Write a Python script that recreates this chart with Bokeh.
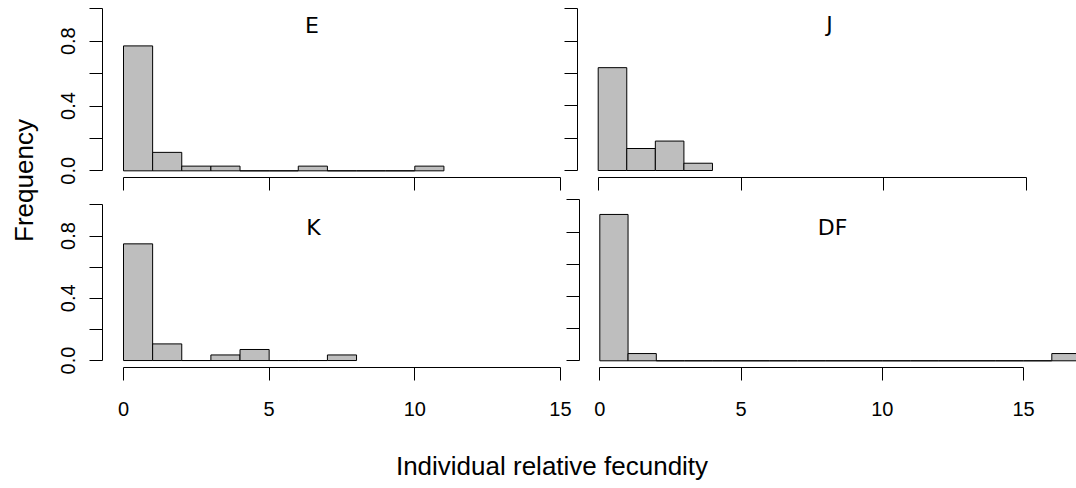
import math
from bokeh.plotting import figure
from bokeh.models import (Range1d, LinearAxis, FixedTicker, PrintfTickFormatter,
                          Label, ColumnDataSource)
from bokeh.layouts import row, column
from bokeh.embed import file_html
from bokeh.resources import INLINE

# ---------------- data ----------------
bin_edges = list(range(0, 18))            # histogram breaks, width 1
E_freq = [0.771, 0.114, 0.029, 0.029, 0.0, 0.0, 0.029, 0.0, 0.0, 0.0, 0.029]
J_freq = [0.636, 0.136, 0.182, 0.045]
K_freq = [0.750, 0.107, 0.0, 0.036, 0.071, 0.0, 0.0, 0.036]
DF_freq = [0.909, 0.045, 0.0, 0.0, 0.0, 0.0, 0.0, 0.0, 0.0, 0.0,
           0.0, 0.0, 0.0, 0.0, 0.0, 0.0, 0.045]
x_ticks = [0, 5, 10, 15]
y_ticks = [0.0, 0.2, 0.4, 0.6, 0.8, 1.0]
y_labelled = [0.0, 0.4, 0.8]
x_title = "Individual relative fecundity"
y_title = "Frequency"

# ---------------- styles ----------------
TICK_FONT = "Liberation Sans"
TITLE_FONT = "DejaVu Sans"
BAR_FILL = "#BEBEBE"
INK = "#000000"
TICK_LEN = 13


def xr(lo_px, hi_px, zero_px, unit_px):
    return Range1d(start=(lo_px - zero_px) / unit_px, end=(hi_px - zero_px) / unit_px)


def yr(top_px, bottom_px, zero_px, unit_px):
    return Range1d(start=(zero_px - bottom_px) / unit_px, end=(zero_px - top_px) / unit_px)


def style_axis(ax, size="19px"):
    ax.axis_line_color = INK
    ax.axis_line_width = 1
    ax.major_tick_line_color = INK
    ax.minor_tick_line_color = INK
    ax.major_tick_in = 0
    ax.minor_tick_in = 0
    ax.major_tick_out = TICK_LEN
    ax.minor_tick_out = TICK_LEN
    ax.major_label_text_font = TICK_FONT
    ax.major_label_text_font_size = size
    ax.major_label_text_color = INK


def base_fig(w, h, borders, x_range, y_range):
    bl, br, bt, bb = borders
    p = figure(width=w, height=h, x_range=x_range, y_range=y_range,
               x_axis_type=None, y_axis_type=None, toolbar_location=None,
               output_backend="svg", min_border_left=bl, min_border_right=br,
               min_border_top=bt, min_border_bottom=bb)
    p.outline_line_color = None
    p.background_fill_color = "white"
    p.border_fill_color = "white"
    return p


def panel(freq, title, spec, y_labels):
    w, h = spec["w"], spec["h"]
    bl, br, bt, bb = spec["borders"]
    p = base_fig(w, h, spec["borders"],
                 xr(bl, w - br, spec["x0"], spec["xu"]),
                 yr(bt, h - bb, spec["y0"], spec["yu"]))
    n = len(freq)
    src = ColumnDataSource(dict(left=bin_edges[:n], right=bin_edges[1:n + 1],
                                top=freq, bottom=[0.0] * n))
    p.quad(left="left", right="right", top="top", bottom="bottom", source=src,
           fill_color=BAR_FILL, line_color=INK, line_width=1)

    # y axis (R style: ticks every 0.2, labels every 0.4 on the left column)
    if y_labels:
        yt = FixedTicker(ticks=y_labelled,
                         minor_ticks=[t for t in y_ticks if t not in y_labelled])
    else:
        yt = FixedTicker(ticks=[], minor_ticks=y_ticks)
    yax = LinearAxis(ticker=yt, formatter=PrintfTickFormatter(format="%.1f"),
                     bounds=(y_ticks[0], y_ticks[-1]))
    style_axis(yax, "20px")
    yax.major_label_orientation = "vertical"
    yax.major_label_standoff = 14 if y_labels else 0
    p.add_layout(yax, "left")

    # x axis: line and ticks only (labels sit in the strip below)
    xax = LinearAxis(ticker=FixedTicker(ticks=[], minor_ticks=x_ticks),
                     bounds=(x_ticks[0], x_ticks[-1]))
    style_axis(xax)
    xax.major_label_standoff = 0
    p.add_layout(xax, "below")

    tx, ty = spec["title_px"]
    p.add_layout(Label(x=(tx - spec["x0"]) / spec["xu"],
                       y=(spec["y0"] - ty) / spec["yu"],
                       text=title, text_align="center", text_baseline="middle",
                       text_font=TITLE_FONT, text_font_size="22px",
                       text_color=INK))
    return p


def label_strip(spec):
    w, h = spec["w"], spec["h"]
    bl, br, bt, bb = spec["borders"]
    p = base_fig(w, h, spec["borders"],
                 xr(bl, w - br, spec["x0"], spec["xu"]),
                 Range1d(0, 1))
    ax = LinearAxis(ticker=FixedTicker(ticks=x_ticks))
    style_axis(ax, "20px")
    ax.axis_line_color = None
    ax.major_tick_line_color = None
    ax.major_tick_out = 0
    ax.minor_tick_out = 0
    ax.major_label_standoff = 15
    p.add_layout(ax, "below")
    return p


# ---------------- layout specs (canvas-local pixels) ----------------
TL = dict(w=515, h=196, borders=(54, 2, 8, 18), x0=75.0, xu=29.13, y0=171.3, yu=163.0,
          title_px=(263.5, 25.0))
TR = dict(w=513, h=196, borders=(14, 0, 8, 19), x0=34.7, xu=28.57, y0=170.0, yu=161.7,
          title_px=(266.0, 24.0))
BL = dict(w=517, h=186, borders=(54, 2, 0, 14), x0=75.0, xu=29.13, y0=165.0, yu=156.5,
          title_px=(265.0, 31.5))
BR = dict(w=511, h=186, borders=(14, 0, 0, 15), x0=34.3, xu=28.25, y0=164.3, yu=161.0,
          title_px=(267.0, 30.7))
LS = dict(w=532, h=46, borders=(54, 10, 0, 42), x0=75.0, xu=29.13)
RS = dict(w=496, h=46, borders=(0, 0, 0, 42), x0=19.3, xu=28.25)

p_tl = panel(E_freq, "E", TL, True)
p_tr = panel(J_freq, "J", TR, False)
p_bl = panel(K_freq, "K", BL, True)
p_br = panel(DF_freq, "DF", BR, False)
p_ls = label_strip(LS)
p_rs = label_strip(RS)

# y title
p_y = base_fig(48, 428, (0, 0, 0, 0), Range1d(0, 48), Range1d(0, 428))
p_y.add_layout(Label(x=23.5, y=248, text=y_title, angle=math.pi / 2,
                     text_align="center", text_baseline="middle",
                     text_font=TICK_FONT, text_font_size="26px", text_color=INK))

# x title
p_x = base_fig(1076, 60, (0, 0, 0, 0), Range1d(0, 1076), Range1d(0, 60))
p_x.add_layout(Label(x=551.5, y=23, text=x_title,
                     text_align="center", text_baseline="middle",
                     text_font=TICK_FONT, text_font_size="26px", text_color=INK))

grid = column(row(p_tl, p_tr), row(p_bl, p_br), row(p_ls, p_rs))
page = column(row(p_y, grid), p_x)

open("out.html", "w").write(file_html(page, INLINE))
